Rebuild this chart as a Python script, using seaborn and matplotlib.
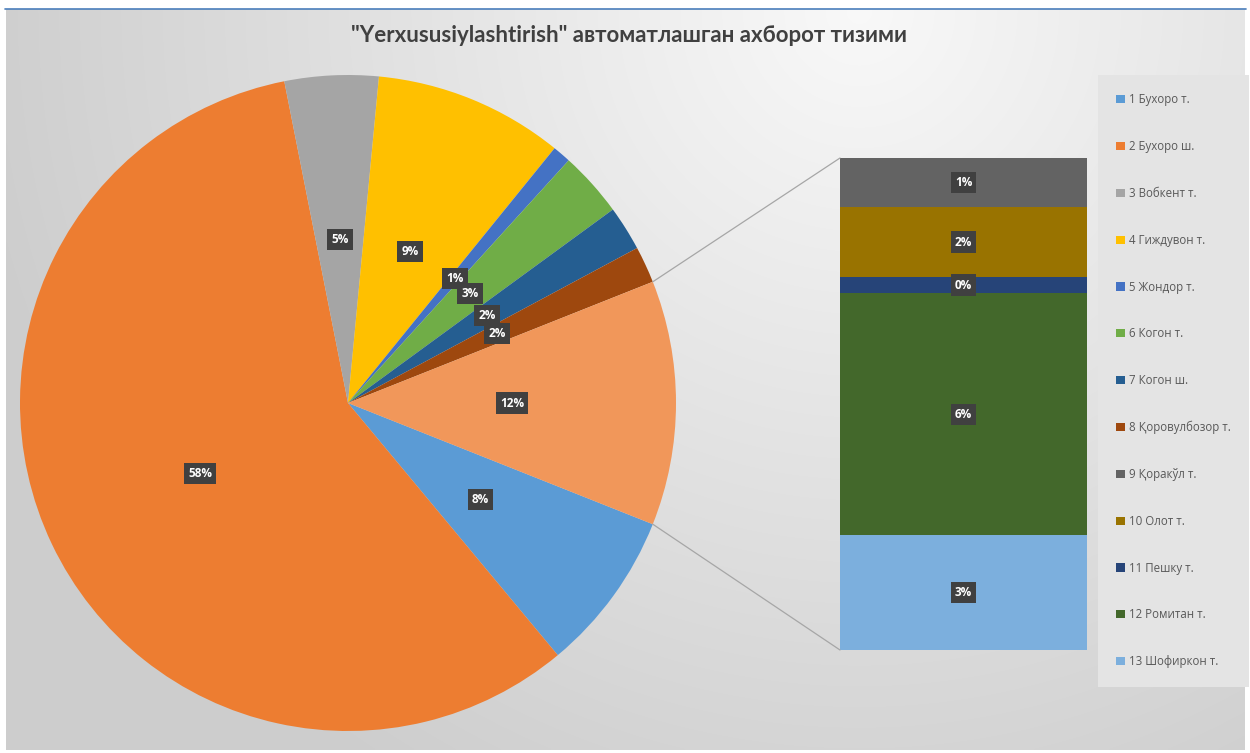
import numpy as np
import matplotlib
matplotlib.use("Agg")
import matplotlib.pyplot as plt
from matplotlib.patches import Patch, ConnectionPatch
import seaborn as sns

# ---------------- data ----------------
title_text = '"Yerxususiylashtirish" автоматлашган ахборот тизими'
main_labels = ["1 Бухоро т.", "2 Бухоро ш.", "3 Вобкент т.", "4 Гиждувон т.",
               "5 Жондор т.", "6 Когон т.", "7 Когон ш.", "8 Қоровулбозор т."]
main_values = [7.9, 57.7, 4.6, 9.3, 0.9, 3.2, 2.2, 1.8]
main_colors = ["#5B9BD5", "#ED7D31", "#A5A5A5", "#FFC000",
               "#4472C4", "#70AD47", "#255E91", "#9E480E"]
other_color = "#F1975A"

sub_labels = ["9 Қоракўл т.", "10 Олот т.", "11 Пешку т.", "12 Ромитан т.", "13 Шофиркон т."]
sub_values = [1.2, 1.7, 0.4, 5.9, 2.8]
sub_colors = ["#636363", "#997300", "#264478", "#43682B", "#7CAFDD"]

# ---------------- style ----------------
sns.set_theme(style="white")
plt.rcParams['font.family'] = ['Open Sans', 'Noto Sans', 'DejaVu Sans']

W, H = 1250, 753
fig = plt.figure(figsize=(W / 100, H / 100), dpi=100)
fig.patch.set_facecolor("white")

# background gradient (chart area)
bg = fig.add_axes([0, 0, 1, 1], zorder=-10)
bg.set_xlim(0, W)
bg.set_ylim(H, 0)
bg.axis("off")
yy, xx = np.mgrid[0:300, 0:500]
px = xx / 499 * (1245 - 6) + 6
py = yy / 299 * (750 - 9) + 9
d = np.sqrt((px - 860) ** 2 + (py - 10) ** 2)
g = 0.975 - 0.17 * np.clip(d / 900, 0, 1)
img = np.dstack([g, g, g])
bg.imshow(img, extent=[6, 1245, 750, 9], aspect="auto", interpolation="bilinear")
bg.plot([5, 1246], [8.5, 8.5], color="#4A7EBB", lw=1.2)

total = sum(main_values) + sum(sub_values)
other_value = sum(sub_values)

# ---------------- pie ----------------
cx, cy, R = 348, 403, 328
pad = 4
ax = fig.add_axes([(cx - R - pad) / W, (H - cy - R - pad) / H,
                   2 * (R + pad) / W, 2 * (R + pad) / H])
ax.set_facecolor("none")
other_deg = other_value / total * 360
pie_vals = main_values + [other_value]
wedges, _, autotexts = ax.pie(
    pie_vals, colors=main_colors + [other_color], startangle=-other_deg / 2,
    counterclock=False, radius=1, pctdistance=0.5,
    autopct=lambda p: f"{p:.0f}%",
    wedgeprops=dict(linewidth=0),
    textprops=dict(color="white", fontsize=8.5, fontweight="bold"))
for t in autotexts:
    t.set_bbox(dict(boxstyle="square,pad=0.35", fc="#404040", ec="none"))
lim = (R + pad) / R
ax.set_xlim(-lim, lim)
ax.set_ylim(-lim, lim)
ax.set_aspect("equal")
ax.axis("off")

# ---------------- stacked bar ----------------
bx0, bx1, by0, by1 = 840, 1087, 158, 650
bax = fig.add_axes([bx0 / W, (H - by1) / H, (bx1 - bx0) / W, (by1 - by0) / H])
bax.set_facecolor("none")
order = list(range(len(sub_values)))[::-1]  # bottom: last item
bottom = 0.0
for i in order:
    v = sub_values[i]
    sns.barplot(x=["Other"], y=[v], bottom=bottom, color=sub_colors[i],
                width=1.0, ax=bax, errorbar=None, linewidth=0, saturation=1)
    bax.text(0, bottom + v / 2, f"{v / total * 100:.0f}%", ha="center", va="center",
             color="white", fontsize=8.5, fontweight="bold",
             bbox=dict(boxstyle="square,pad=0.35", fc="#404040", ec="none"))
    bottom += v
bax.set_xlim(-0.5, 0.5)
bax.set_ylim(0, other_value)
bax.axis("off")

# connector lines
w_other = wedges[-1]
t_hi = np.deg2rad(w_other.theta2)
t_lo = np.deg2rad(w_other.theta1)
for ang, yb in [(t_hi, other_value), (t_lo, 0)]:
    con = ConnectionPatch(xyA=(np.cos(ang), np.sin(ang)), coordsA=ax.transData,
                          xyB=(-0.5, yb), coordsB=bax.transData,
                          color="#A6A6A6", lw=0.9)
    fig.add_artist(con)

# ---------------- legend ----------------
handles = [Patch(facecolor=c, edgecolor="none") for c in main_colors + sub_colors]
labels = main_labels + sub_labels
leg = fig.legend(handles, labels, loc="upper left",
                 bbox_to_anchor=(1098 / W, 1 - 75 / H), bbox_transform=fig.transFigure,
                 frameon=True, fancybox=False, fontsize=8.3, labelspacing=2.93,
                 handlelength=0.7, handleheight=0.7, handletextpad=0.35,
                 borderpad=1.6, borderaxespad=0)
leg.get_frame().set_facecolor("#E4E4E4")
leg.get_frame().set_edgecolor("none")
leg.get_frame().set_alpha(1)
for t in leg.get_texts():
    t.set_color("#595959")

# ---------------- title ----------------
fig.text(629 / W, 1 - 35 / H, title_text, ha="center", va="center",
         fontsize=16, fontweight="bold", color="#404040",
         family=['Lato', 'Noto Sans', 'DejaVu Sans'])

fig.savefig("out.png", dpi=100)
